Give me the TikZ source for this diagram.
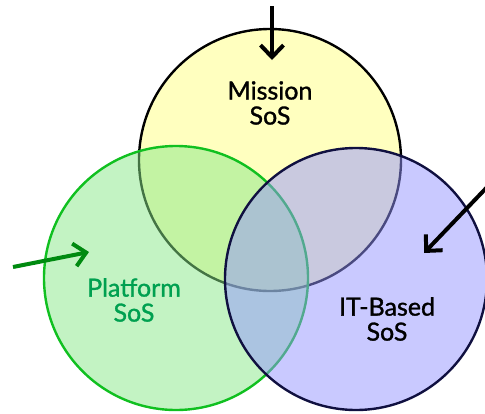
\documentclass[tikz,border=0pt]{standalone}
\usepackage{fontspec}
\setmainfont{Lato}
\usetikzlibrary{arrows.meta}
\definecolor{yfill}{HTML}{FFFF80}
\definecolor{gfill}{HTML}{88E888}
\definecolor{bfill}{HTML}{9494FF}
\definecolor{gline}{HTML}{10C020}
\definecolor{gtext}{HTML}{00A050}
\definecolor{garrow}{HTML}{008A10}
\definecolor{bline}{HTML}{101040}
\tikzset{
  venn/.style={circle, minimum size=#1, inner sep=0pt, line width=2.4pt, fill opacity=0.5, draw opacity=1},
  lbl/.style={align=center, font=\fontsize{25}{29}\selectfont\addfontfeature{FakeBold=1.2}},
  pointer/.style={line width=4pt, -{Straight Barb[length=12pt, width=23pt, line width=4pt]}}
}
\begin{document}
\begin{tikzpicture}[x=1pt,y=-1pt]
\useasboundingbox (0,0) rectangle (485,413);
\node[venn=262pt, fill=yfill, draw=black] (mission) at (270,160) {};
\node[venn=264pt, fill=gfill, draw=gline] (platform) at (176,278) {};
\node[venn=262pt, fill=bfill, draw=bline] (itbased) at (356,279) {};
\node[lbl, text=black] (mtext) at (270,103) {Mission\\[-4pt]SoS};
\node[lbl, text=gtext] (ptext) at (134,300) {Platform\\[-4pt]SoS};
\node[lbl, text=black] (itext) at (387,319) {IT-Based\\[-4pt]SoS};
\coordinate (topstart) at (272,6);
\coordinate (topend) at (272,60);
\coordinate (gstart) at (13,267);
\coordinate (gend) at (89,252);
\coordinate (rstart) at (492,182);
\coordinate (rend) at (424,253);
\draw[pointer, black] (topstart) -- (topend);
\draw[pointer, garrow] (gstart) -- (gend);
\draw[pointer, black] (rstart) -- (rend);
\end{tikzpicture}
\end{document}
